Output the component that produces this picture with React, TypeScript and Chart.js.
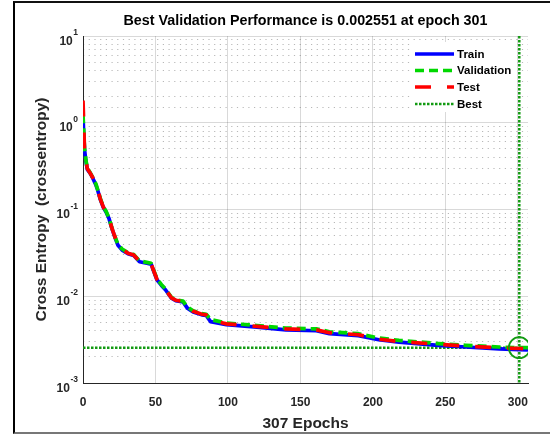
import React, { useEffect, useRef } from 'react';
import { Chart, registerables } from 'chart.js';

Chart.register(...registerables);

const FONT = '"Liberation Sans", Arial, Helvetica, sans-serif';

const TITLE = 'Best Validation Performance is 0.002551 at epoch 301';
const X_LABEL = '307 Epochs';
const Y_LABEL = 'Cross Entropy  (crossentropy)';

const X_MIN = 0;
const X_MAX = 307;
const Y_MIN = 0.001;
const Y_MAX = 10;
const X_TICKS = [0, 50, 100, 150, 200, 250, 300];
const Y_TICKS = [0.001, 0.01, 0.1, 1, 10];
const Y_TICK_BASE = '10';
const Y_TICK_EXPONENTS = ['-3', '-2', '-1', '0', '1'];

const EPOCHS = [0, 1, 2, 3, 5, 7, 9, 10, 12, 14, 16, 18, 20, 22, 24, 27, 31, 35, 39, 44, 47, 49, 51, 54, 57, 61, 64, 69, 72, 76, 82, 85, 88, 99, 120, 140, 161, 170, 190, 204, 218, 245, 264, 287, 301, 307];
const TRAIN = [1.15, 0.5, 0.36, 0.29, 0.26, 0.225, 0.19, 0.17, 0.13, 0.106, 0.093, 0.078, 0.06, 0.048, 0.039, 0.034, 0.031, 0.0295, 0.025, 0.024, 0.0235, 0.019, 0.0155, 0.0134, 0.0118, 0.0095, 0.0089, 0.0086, 0.0073, 0.0066, 0.0061, 0.006, 0.0051, 0.0047, 0.0044, 0.0041, 0.004, 0.0037, 0.00352, 0.00315, 0.00296, 0.00272, 0.0026, 0.00248, 0.00243, 0.00241];
const VALIDATION = [1.25, 0.52, 0.37, 0.3, 0.265, 0.23, 0.195, 0.172, 0.133, 0.108, 0.095, 0.079, 0.061, 0.049, 0.04, 0.035, 0.0318, 0.0302, 0.0256, 0.0246, 0.024, 0.0195, 0.0159, 0.0137, 0.0121, 0.0097, 0.0091, 0.0088, 0.0075, 0.0068, 0.0063, 0.0062, 0.0054, 0.0049, 0.0046, 0.0043, 0.0042, 0.0039, 0.0037, 0.0033, 0.0031, 0.00285, 0.00272, 0.0026, 0.002551, 0.00256];
const TEST = [1.8, 0.51, 0.365, 0.295, 0.262, 0.228, 0.192, 0.171, 0.131, 0.107, 0.094, 0.0785, 0.0605, 0.0485, 0.0395, 0.0345, 0.0314, 0.0298, 0.0253, 0.0243, 0.0237, 0.0192, 0.0157, 0.0135, 0.0119, 0.0096, 0.009, 0.0087, 0.0074, 0.0067, 0.0062, 0.0061, 0.0053, 0.0048, 0.0045, 0.0042, 0.0041, 0.0038, 0.0036, 0.0032, 0.003, 0.0028, 0.00266, 0.00254, 0.0025, 0.00248];

const BEST_EPOCH = 301;
const BEST_VALUE = 0.002551;

const LEGEND_LABELS = ['Train', 'Validation', 'Test', 'Best'];

const BLUE = '#0000ff';
const GREEN = '#00d800';
const RED = '#ff0000';
const BEST_GREEN = '#129a12';

const LEGEND_STYLES = [
  { color: BLUE, dash: [] as number[], width: 3.5 },
  { color: GREEN, dash: [9, 5], width: 3.5 },
  { color: RED, dash: [16, 16], width: 3.5 },
  { color: BEST_GREEN, dash: [2.5, 1.5], width: 2.5 },
];

const isDecade = (v: number) => Math.abs(Math.log10(v) - Math.round(Math.log10(v))) < 1e-9;

const overlay = {
  id: 'overlay',
  afterDraw(chart: any) {
    const ctx = chart.ctx as CanvasRenderingContext2D;
    const ca = chart.chartArea;
    const cx = (ca.left + ca.right) / 2;
    const cy = (ca.top + ca.bottom) / 2;
    ctx.save();

    // y tick labels (10 with superscript exponent)
    const yScale = chart.scales.y;
    ctx.fillStyle = '#262626';
    ctx.textAlign = 'right';
    ctx.textBaseline = 'alphabetic';
    const right = ca.left - 5;
    Y_TICKS.forEach((v, i) => {
      const py = yScale.getPixelForValue(v);
      ctx.font = `bold 8.5px ${FONT}`;
      const exp = Y_TICK_EXPONENTS[i];
      const ew = ctx.measureText(exp).width;
      ctx.fillText(exp, right, py - 1);
      ctx.font = `bold 12px ${FONT}`;
      ctx.fillText(Y_TICK_BASE, right - ew - 0.5, py + 8.5);
    });

    ctx.textAlign = 'center';
    ctx.fillStyle = '#000';
    ctx.font = `bold 14.3px ${FONT}`;
    ctx.fillText(TITLE, cx, 25);
    ctx.fillStyle = '#262626';
    ctx.font = `bold 15.5px ${FONT}`;
    ctx.fillText(X_LABEL, cx, 428);
    ctx.save();
    ctx.translate(46, cy);
    ctx.rotate(-Math.PI / 2);
    ctx.fillText(Y_LABEL, 0, 0);
    ctx.restore();

    // legend
    ctx.fillStyle = '#fff';
    ctx.fillRect(411, 42, 106, 70);
    const rows = [54, 70.5, 87, 104];
    ctx.font = `bold 11.5px ${FONT}`;
    ctx.textAlign = 'left';
    ctx.textBaseline = 'middle';
    LEGEND_LABELS.forEach((label, i) => {
      const st = LEGEND_STYLES[i];
      const y = rows[i];
      ctx.beginPath();
      ctx.setLineDash(st.dash);
      ctx.lineWidth = st.width;
      ctx.strokeStyle = st.color;
      ctx.lineCap = 'butt';
      ctx.moveTo(415, y);
      ctx.lineTo(454, y);
      ctx.stroke();
      ctx.setLineDash([]);
      ctx.fillStyle = '#000';
      ctx.fillText(label, 457, y + 0.5);
    });
    ctx.restore();
  },
};

export default function App() {
  const ref = useRef<HTMLCanvasElement>(null);

  useEffect(() => {
    const canvas = ref.current;
    if (!canvas) return;
    const pts = (vals: number[]) => EPOCHS.map((e, i) => ({ x: e, y: vals[i] }));
    const tickFont = { family: FONT, size: 12, weight: 'bold' as const };

    const chart = new Chart(canvas, {
      type: 'line',
      data: {
        datasets: [
          {
            label: LEGEND_LABELS[0],
            data: pts(TRAIN),
            borderColor: BLUE,
            borderWidth: 3.7,
            pointRadius: 0,
            order: 3,
          },
          {
            label: LEGEND_LABELS[1],
            data: pts(VALIDATION),
            borderColor: GREEN,
            borderWidth: 3.7,
            borderDash: [9, 5],
            pointRadius: 0,
            order: 2,
          },
          {
            label: LEGEND_LABELS[2],
            data: pts(TEST),
            borderColor: RED,
            borderWidth: 3.7,
            borderDash: [16, 16],
            pointRadius: 0,
            order: 1,
          },
          {
            label: LEGEND_LABELS[3],
            data: [
              { x: BEST_EPOCH, y: Y_MAX },
              { x: BEST_EPOCH, y: Y_MIN },
            ],
            borderColor: BEST_GREEN,
            borderWidth: 2.5,
            borderDash: [2.5, 1.5],
            pointRadius: 0,
            order: 4,
          },
          {
            label: 'best-h',
            data: [
              { x: X_MIN, y: BEST_VALUE },
              { x: X_MAX, y: BEST_VALUE },
            ],
            borderColor: BEST_GREEN,
            borderWidth: 2.5,
            borderDash: [2.5, 1.5],
            pointRadius: 0,
            order: 4,
          },
          {
            label: 'best-point',
            data: [{ x: BEST_EPOCH, y: BEST_VALUE }],
            showLine: false,
            pointRadius: 10.5,
            pointBorderWidth: 1.8,
            pointBorderColor: BEST_GREEN,
            pointBackgroundColor: 'rgba(0,0,0,0)',
            order: 0,
          },
        ],
      },
      options: {
        responsive: false,
        devicePixelRatio: 1,
        animation: false,
        events: [],
        layout: { padding: { left: 0, right: 22, top: 36, bottom: 0 } },
        elements: { line: { tension: 0, borderCapStyle: 'butt', borderJoinStyle: 'round' } },
        plugins: {
          legend: { display: false },
          title: { display: false },
          tooltip: { enabled: false },
        },
        scales: {
          x: {
            type: 'linear',
            min: X_MIN,
            max: X_MAX,
            afterBuildTicks: (scale: any) => {
              scale.ticks = X_TICKS.map((v) => ({ value: v }));
            },
            afterFit: (scale: any) => {
              scale.height = 51;
            },
            ticks: {
              autoSkip: false,
              maxRotation: 0,
              padding: 12,
              font: tickFont,
              color: '#262626',
            },
            grid: {
              color: 'rgba(0,0,0,0.15)',
              lineWidth: 1,
              drawTicks: false,
            },
            border: { display: true, color: '#262626', width: 1 },
          },
          y: {
            type: 'logarithmic',
            position: 'left',
            min: Y_MIN,
            max: Y_MAX,
            afterBuildTicks: (scale: any) => {
              scale.ticks = Y_TICKS.map((v) => ({ value: v }));
            },
            afterFit: (scale: any) => {
              scale.width = 83;
            },
            ticks: { display: false },
            grid: {
              color: 'rgba(0,0,0,0.15)',
              lineWidth: 1,
              drawTicks: false,
            },
            border: { display: true, color: '#262626', width: 1 },
          },
          yMinor: {
            type: 'logarithmic',
            position: 'left',
            min: Y_MIN,
            max: Y_MAX,
            afterBuildTicks: (scale: any) => {
              scale.ticks = scale.ticks.filter((t: any) => !isDecade(t.value));
            },
            afterFit: (scale: any) => {
              scale.width = 0;
            },
            ticks: { display: false },
            grid: {
              color: 'rgba(0,0,0,0.28)',
              lineWidth: 1,
              drawTicks: false,
            },
            border: { display: false, dash: [1.2, 4.5] },
          },
        },
      },
      plugins: [overlay],
    } as any);

    return () => chart.destroy();
  }, []);

  return (
    <div
      style={{
        position: 'fixed',
        left: 0,
        top: 0,
        width: 550,
        height: 434,
        background: '#fff',
        overflow: 'hidden',
      }}
    >
      <div
        style={{
          position: 'absolute',
          left: 13,
          top: 1,
          width: 600,
          height: 433,
          boxSizing: 'border-box',
          borderLeft: '2px solid #000',
          borderTop: '2px solid #111',
          borderBottom: '2px solid #777',
        }}
      />
      <canvas
        ref={ref}
        width={550}
        height={434}
        style={{ position: 'absolute', left: 0, top: 0, width: 550, height: 434 }}
      />
    </div>
  );
}
